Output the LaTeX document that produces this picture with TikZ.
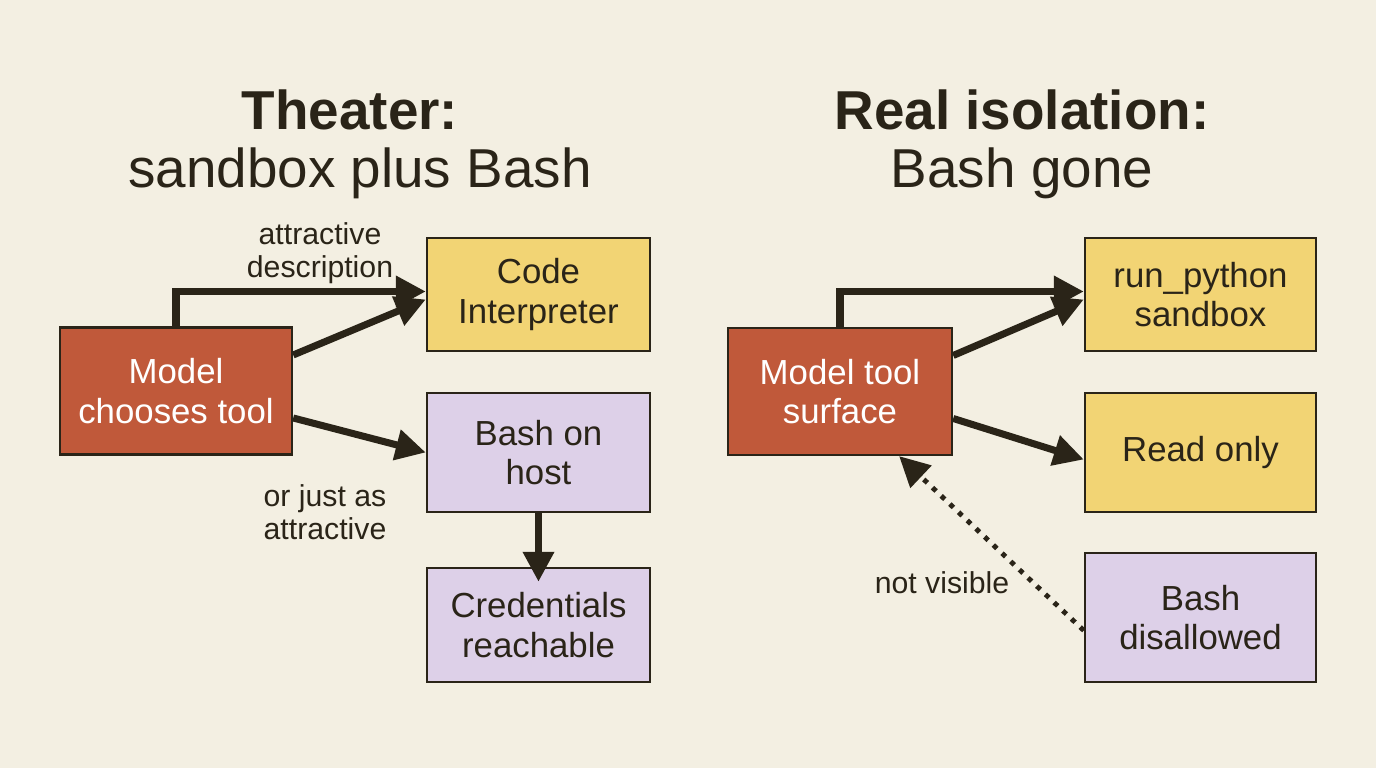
\documentclass[tikz,border=0pt]{standalone}
\usepackage{fontspec}
\setmainfont{Liberation Sans}
\usetikzlibrary{arrows.meta}
\definecolor{bgc}{HTML}{F3EFE2}
\definecolor{redbox}{HTML}{C0593A}
\definecolor{yelbox}{HTML}{F2D474}
\definecolor{lilbox}{HTML}{DDD0E8}
\definecolor{ink}{HTML}{2A2418}
\tikzset{
  box/.style={draw=ink, line width=0.7pt, align=center, inner sep=0pt,
    font=\fontsize{9.9}{11.2}\selectfont, text=ink},
  arr/.style={-{Triangle[length=0.3cm,width=0.3cm]}, line width=2pt, draw=ink},
  lbl/.style={align=center, font=\fontsize{8.6}{9.4}\selectfont, text=ink}
}
\begin{document}
\begin{tikzpicture}
\fill[bgc] (0,0) rectangle (13.76,7.68);
\useasboundingbox (0,0) rectangle (13.76,7.68);
% titles
\node[text=ink, font=\fontsize{15.6}{17}\selectfont\bfseries] (t1) at (3.50,6.58) {Theater:};
\node[text=ink, font=\fontsize{15.6}{17}\selectfont] (s1) at (3.60,5.95) {sandbox plus Bash};
\node[text=ink, font=\fontsize{15.6}{17}\selectfont\bfseries] (t2) at (10.22,6.58) {Real isolation:};
\node[text=ink, font=\fontsize{15.6}{17}\selectfont] (s2) at (10.22,5.95) {Bash gone};
% left side
\node[box, fill=redbox, text=white, minimum width=2.32cm, minimum height=1.27cm] (mc) at (1.76,3.77) {Model\\chooses tool};
\node[box, fill=yelbox, minimum width=2.23cm, minimum height=1.13cm] (ci) at (5.385,4.735) {Code\\Interpreter};
\node[box, fill=lilbox, minimum width=2.23cm, minimum height=1.19cm] (bh) at (5.385,3.155) {Bash on\\host};
\node[box, fill=lilbox, minimum width=2.23cm, minimum height=1.14cm] (cr) at (5.385,1.43) {Credentials\\reachable};
\draw[arr] (mc.north) |- ([yshift=0.03cm]ci.west);
\draw[arr] ([yshift=0.36cm]mc.east) -- ([yshift=-0.05cm]ci.west);
\draw[arr] ([yshift=-0.27cm]mc.east) -- (bh.west);
\draw[arr] (bh.south) -- ([yshift=-0.15cm]cr.north);
\node[lbl] (ad) at (3.20,5.15) {attractive\\description};
\node[lbl] (oj) at (3.25,2.56) {or just as\\attractive};
% right side
\node[box, fill=redbox, text=white, minimum width=2.24cm, minimum height=1.27cm] (ms) at (8.40,3.765) {Model tool\\surface};
\node[box, fill=yelbox, minimum width=2.31cm, minimum height=1.13cm] (rp) at (12.005,4.735) {run\_python\\sandbox};
\node[box, fill=yelbox, minimum width=2.31cm, minimum height=1.19cm] (ro) at (12.005,3.155) {Read only};
\node[box, fill=lilbox, minimum width=2.31cm, minimum height=1.29cm] (bd) at (12.005,1.505) {Bash\\disallowed};
\draw[arr] (ms.north) |- ([yshift=0.03cm]rp.west);
\draw[arr] ([yshift=0.36cm]ms.east) -- ([yshift=-0.05cm]rp.west);
\draw[arr] ([yshift=-0.27cm]ms.east) -- ([yshift=-0.07cm]ro.west);
\draw[-{Triangle[length=0.3cm,width=0.3cm]}, line width=1.4pt, draw=ink, dotted] ([yshift=-0.13cm]bd.west) -- ([xshift=-0.54cm]ms.south east);
\node[lbl] (nv) at (9.42,1.85) {not visible};
\end{tikzpicture}
\end{document}
